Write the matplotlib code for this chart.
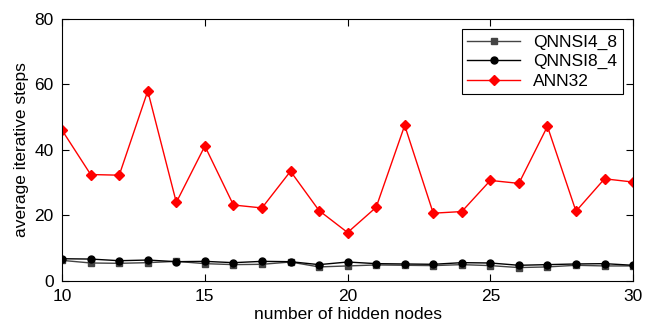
import numpy as np
import matplotlib
matplotlib.use("Agg")
import matplotlib.pyplot as plt

plt.rcParams["font.family"] = ["Liberation Sans", "DejaVu Sans"]

hidden_nodes = np.arange(10, 31)

# average iterative steps per model
qnnsi4_8 = [6.3, 5.5, 5.4, 5.6, 6.0, 5.3, 5.0, 5.1, 5.8, 4.3, 4.6,
            4.9, 4.8, 4.7, 5.0, 4.7, 4.1, 4.3, 4.8, 4.6, 4.6]
qnnsi8_4 = [6.8, 6.7, 6.2, 6.4, 5.9, 6.0, 5.6, 6.0, 5.9, 5.0, 5.8,
            5.3, 5.2, 5.1, 5.6, 5.5, 4.8, 5.0, 5.2, 5.3, 4.8]
ann32 = [46.0, 32.5, 32.3, 58.0, 24.0, 41.2, 23.2, 22.3, 33.5, 21.5, 14.8,
         22.5, 47.5, 20.7, 21.2, 30.7, 29.8, 47.2, 21.3, 31.2, 30.2]

fig = plt.figure(figsize=(6.54, 3.26), dpi=100)
ax = fig.add_axes([0.095, 0.138, 0.873, 0.804])

ax.plot(hidden_nodes, qnnsi4_8, color="#444444", marker="s", markersize=4.5,
        linewidth=1, label="QNNSI4_8")
ax.plot(hidden_nodes, qnnsi8_4, color="black", marker="o", markersize=5,
        linewidth=1, label="QNNSI8_4")
ax.plot(hidden_nodes, ann32, color="red", marker="D", markersize=5,
        linewidth=1, label="ANN32")

ax.set_xlim(10, 30)
ax.set_ylim(0, 80)
ax.set_xticks([10, 15, 20, 25, 30])
ax.set_yticks([0, 20, 40, 60, 80])
ax.tick_params(direction="in", top=True, right=True, labelsize=12.5,
               length=5, pad=6)
ax.set_xlabel("number of hidden nodes", fontsize=12.5, labelpad=2)
ax.set_ylabel("average iterative steps", fontsize=12.5, labelpad=4)

leg = ax.legend(loc="upper right", fontsize=12.5, fancybox=False,
                edgecolor="black", framealpha=1, handlelength=3,
                borderaxespad=0.6, borderpad=0.3, labelspacing=0.25)
leg.get_frame().set_linewidth(0.8)

fig.savefig("out.png", dpi=100)
